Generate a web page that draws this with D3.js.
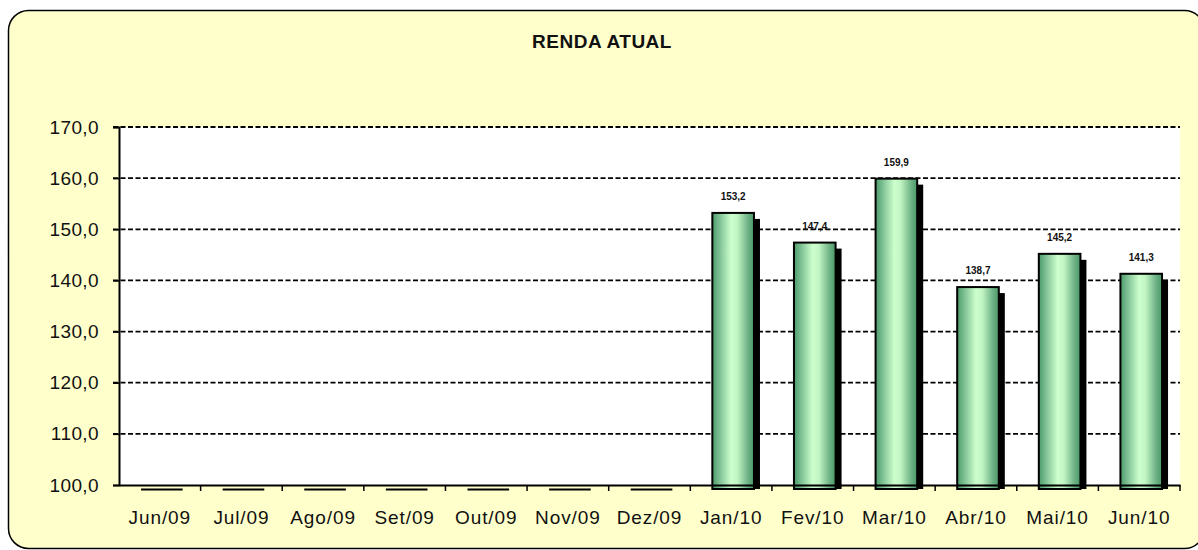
<!DOCTYPE html>
<html>
<head>
<meta charset="utf-8">
<script src="https://cdn.jsdelivr.net/npm/d3@7"></script>
<style>
  body { margin: 0; background: #ffffff; }
  svg { display: block; font-family: "Liberation Sans", Arial, sans-serif; }
</style>
</head>
<body>
<div id="chart"></div>
<script>
// chart data
var months = ["Jun/09", "Jul/09", "Ago/09", "Set/09", "Out/09", "Nov/09", "Dez/09",
              "Jan/10", "Fev/10", "Mar/10", "Abr/10", "Mai/10", "Jun/10"];
var renda = [null, null, null, null, null, null, null,
             153.2, 147.4, 159.9, 138.7, 145.2, 141.3];
var yTicks = [100, 110, 120, 130, 140, 150, 160, 170];
var title = "RENDA ATUAL";

var W = 1198, H = 550;
var plot = { left: 119, right: 1180, top: 127, bottom: 485 };
var fmt = function(v) { return d3.format(".1f")(v).replace(".", ","); };

var svg = d3.select("#chart").append("svg")
    .attr("width", W)
    .attr("height", H);

var defs = svg.append("defs");
var grad = defs.append("linearGradient")
    .attr("id", "barGrad")
    .attr("x1", "0%").attr("x2", "100%")
    .attr("y1", "0%").attr("y2", "0%");
grad.append("stop").attr("offset", "0%").attr("stop-color", "#4b9a69");
grad.append("stop").attr("offset", "20%").attr("stop-color", "#86c79a");
grad.append("stop").attr("offset", "45%").attr("stop-color", "#ccffcc");
grad.append("stop").attr("offset", "60%").attr("stop-color", "#c2f5c4");
grad.append("stop").attr("offset", "85%").attr("stop-color", "#6fb386");
grad.append("stop").attr("offset", "100%").attr("stop-color", "#4a9868");

// outer frame
svg.append("rect")
    .attr("x", 8.5).attr("y", 10.5)
    .attr("width", 1196).attr("height", 538)
    .attr("rx", 20).attr("ry", 20)
    .attr("fill", "#ffffcc")
    .attr("stroke", "#000")
    .attr("stroke-width", 1.5);

svg.append("text")
    .attr("x", 602).attr("y", 48)
    .attr("text-anchor", "middle")
    .attr("font-size", "19px")
    .attr("font-weight", "bold")
    .attr("letter-spacing", "0.5px")
    .attr("fill", "#111")
    .text(title);

// plot area
svg.append("rect")
    .attr("x", plot.left).attr("y", plot.top)
    .attr("width", plot.right - plot.left)
    .attr("height", plot.bottom - plot.top)
    .attr("fill", "#ffffff");

var x = d3.scaleBand()
    .domain(months)
    .range([plot.left, plot.right])
    .padding(0);

var y = d3.scaleLinear()
    .domain([100, 170])
    .range([plot.bottom, plot.top]);

// gridlines
svg.append("g")
    .selectAll("line")
    .data(yTicks.filter(function(d) { return d > 100; }))
    .enter().append("line")
    .attr("x1", plot.left - 6).attr("x2", plot.right)
    .attr("y1", function(d) { return y(d); })
    .attr("y2", function(d) { return y(d); })
    .attr("stroke", "#000")
    .attr("stroke-width", 1.8)
    .attr("stroke-dasharray", "5,2.5");

// y axis
var yAxis = svg.append("g")
    .attr("transform", "translate(" + plot.left + ",0)")
    .call(d3.axisLeft(y).tickValues(yTicks).tickFormat(fmt).tickSize(6).tickPadding(14));
yAxis.select(".domain").attr("stroke", "#000").attr("stroke-width", 2);
yAxis.selectAll(".tick line").attr("stroke", "#000").attr("stroke-width", 1.5);
yAxis.selectAll(".tick text")
    .attr("font-size", "19px")
    .attr("font-family", "'Liberation Sans', Arial, sans-serif")
    .attr("letter-spacing", "0.4px")
    .attr("fill", "#111");

// bars
var barOff = 0.27, barW = 0.51, sh = 6, barBottom = plot.bottom + 4;
var bars = svg.append("g");
var data = months.map(function(m, i) { return { m: m, v: renda[i] }; });
var filled = data.filter(function(d) { return d.v != null; });

bars.selectAll(".shadow")
    .data(filled)
    .enter().append("rect")
    .attr("class", "shadow")
    .attr("x", function(d) { return x(d.m) + x.bandwidth() * barOff + sh; })
    .attr("y", function(d) { return y(d.v) + sh; })
    .attr("width", x.bandwidth() * barW)
    .attr("height", function(d) { return barBottom - y(d.v) - sh; })
    .attr("fill", "#000");

bars.selectAll(".bar")
    .data(filled)
    .enter().append("rect")
    .attr("class", "bar")
    .attr("x", function(d) { return x(d.m) + x.bandwidth() * barOff; })
    .attr("y", function(d) { return y(d.v); })
    .attr("width", x.bandwidth() * barW)
    .attr("height", function(d) { return barBottom - y(d.v); })
    .attr("fill", "url(#barGrad)")
    .attr("stroke", "#000")
    .attr("stroke-width", 2);

// empty months: flat marks under the axis
bars.selectAll(".flat")
    .data(data.filter(function(d) { return d.v == null; }))
    .enter().append("rect")
    .attr("class", "flat")
    .attr("x", function(d) { return x(d.m) + x.bandwidth() * barOff; })
    .attr("y", barBottom - 0.5)
    .attr("width", x.bandwidth() * barW)
    .attr("height", 2)
    .attr("fill", "#000");

// x axis
var xAxis = svg.append("g")
    .attr("transform", "translate(0," + plot.bottom + ")")
    .call(d3.axisBottom(x).tickSize(0).tickPadding(26));
xAxis.select(".domain").attr("stroke", "#000").attr("stroke-width", 2);
xAxis.selectAll(".tick text")
    .attr("font-size", "19px")
    .attr("font-family", "'Liberation Sans', Arial, sans-serif")
    .attr("letter-spacing", "0.9px")
    .attr("fill", "#111");

// category separators under the axis
svg.append("g")
    .selectAll("line")
    .data(months.slice(1).concat(["end"]))
    .enter().append("line")
    .attr("x1", function(d) { return d === "end" ? plot.right : x(d); })
    .attr("x2", function(d) { return d === "end" ? plot.right : x(d); })
    .attr("y1", plot.bottom)
    .attr("y2", plot.bottom + 6)
    .attr("stroke", "#000")
    .attr("stroke-width", 1.5);

// value labels
svg.append("g")
    .selectAll("text")
    .data(filled)
    .enter().append("text")
    .attr("x", function(d) { return x(d.m) + x.bandwidth() * (barOff + barW / 2); })
    .attr("y", function(d) { return y(d.v) - 13; })
    .attr("text-anchor", "middle")
    .attr("font-size", "10px")
    .attr("font-weight", "bold")
    .attr("fill", "#111")
    .text(function(d) { return fmt(d.v); });
</script>
</body>
</html>
